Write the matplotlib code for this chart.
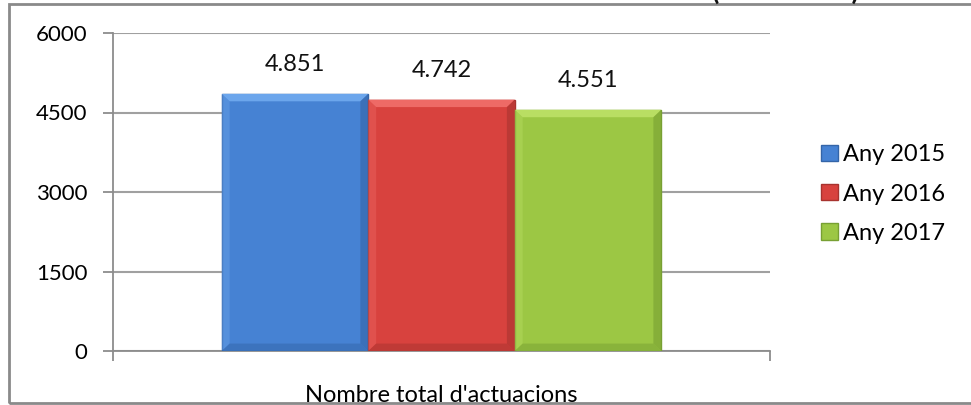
import matplotlib
matplotlib.use("Agg")
import matplotlib.pyplot as plt
from matplotlib.patches import Rectangle, Polygon

plt.rcParams['font.family'] = ['Lato', 'DejaVu Sans']

category = "Nombre total d'actuacions"
years = ["Any 2015", "Any 2016", "Any 2017"]
values = [4851, 4742, 4551]
value_labels = ["4.851", "4.742", "4.551"]
yticks = [0, 1500, 3000, 4500, 6000]

colors = ['#4682D3', '#D8423E', '#9CC744']
lights = ['#6CA6EC', '#EE6A66', '#B9DE63']
darks = ['#3465A8', '#A8332F', '#78A033']

fig = plt.figure(figsize=(9.71, 4.05), dpi=100)
ax = fig.add_axes([113 / 971, 1 - 351 / 405, 657 / 971, 318 / 405])

width = 0.223
offsets = [-width, 0, width]
bx = 0.012   # bevel size in x (axis units)
by = 140     # bevel size in y (data units)
for off, v, lab, name, c, lc, dc in zip(offsets, values, value_labels, years, colors, lights, darks):
    ax.bar(off, v, width=width, color=c, edgecolor=dc, linewidth=1.0, label=name, zorder=3)
    x0, x1 = off - width / 2, off + width / 2
    ax.add_patch(Polygon([(x0, v), (x1, v), (x1 - bx, v - by), (x0 + bx, v - by)],
                         closed=True, facecolor=lc, edgecolor='none', zorder=4))
    ax.add_patch(Polygon([(x1, v), (x1, 0), (x1 - bx, by), (x1 - bx, v - by)],
                         closed=True, facecolor=dc, edgecolor='none', alpha=0.6, zorder=4))
    ax.add_patch(Polygon([(x0, v), (x0, 0), (x0 + bx, by), (x0 + bx, v - by)],
                         closed=True, facecolor=lc, edgecolor='none', alpha=0.4, zorder=4))
    ax.add_patch(Polygon([(x0, 0), (x1, 0), (x1 - bx, by), (x0 + bx, by)],
                         closed=True, facecolor=dc, edgecolor='none', alpha=0.5, zorder=4))
    ax.annotate(lab, (off, v), xytext=(0, 21), textcoords='offset points',
                ha='center', va='center', fontsize=17, color='#111111')

ax.set_xlim(-0.5, 0.5)
ax.set_ylim(0, 6000)
ax.set_yticks(yticks)
ax.set_yticklabels([str(t) for t in yticks], fontsize=16)
ax.set_xticks([-0.5, 0.5])
ax.set_xticklabels(['', ''])
ax.tick_params(axis='y', length=7, width=1.3, color='#8C8C8C', pad=11.5)
ax.tick_params(axis='x', length=7, width=1.3, color='#8C8C8C')
ax.grid(axis='y', color='#A0A0A0', linewidth=1.5, zorder=0)
for s in ['top', 'right']:
    ax.spines[s].set_visible(False)
ax.spines['left'].set_color('#8C8C8C')
ax.spines['bottom'].set_color('#8C8C8C')
ax.spines['left'].set_linewidth(1.3)
ax.spines['bottom'].set_linewidth(1.3)
ax.text(0, -0.14, category, transform=ax.get_xaxis_transform(), ha='center', va='center', fontsize=17)

leg = ax.legend(loc='upper left', bbox_to_anchor=(812 / 971, 1 - 135 / 405),
                bbox_transform=fig.transFigure, frameon=False, fontsize=17,
                handlelength=0.68, handleheight=0.68, handletextpad=0.22,
                labelspacing=0.77, borderaxespad=0)

# outer chart frame, partly cropped
fig.add_artist(Rectangle((9 / 971, 2 / 405), 1.2, 1 - 6 / 405, transform=fig.transFigure,
                         fill=False, edgecolor='#8A8A8A', linewidth=2))
fig.text(785 / 971, 1.0, "(2015-2017)", ha='center', va='baseline', fontsize=19,
         fontweight='bold', color='#111111')

fig.savefig("out.png", dpi=100)
